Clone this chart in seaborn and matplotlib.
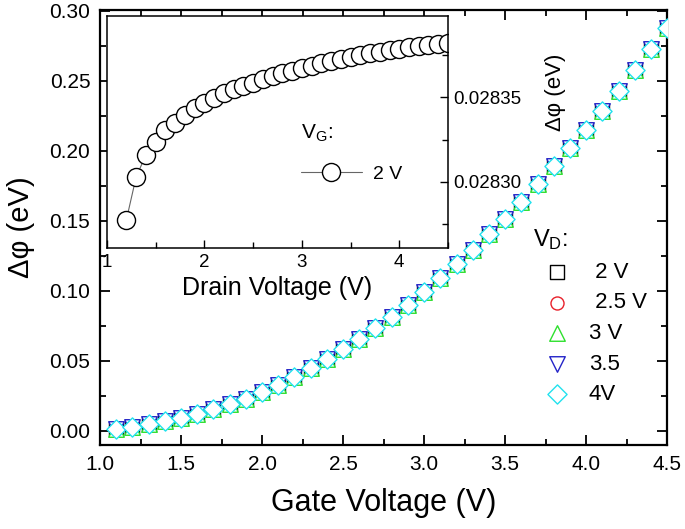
import matplotlib
matplotlib.use("Agg")
import matplotlib.pyplot as plt
from matplotlib.ticker import MultipleLocator, FormatStrFormatter
import pandas as pd
import seaborn as sns

# main panel: potential shift vs gate voltage, one series per drain voltage
gate_voltage = [1.1, 1.2, 1.3, 1.4, 1.5, 1.6, 1.7, 1.8, 1.9, 2.0,
                2.1, 2.2, 2.3, 2.4, 2.5, 2.6, 2.7, 2.8, 2.9, 3.0,
                3.1, 3.2, 3.3, 3.4, 3.5, 3.6, 3.7, 3.8, 3.9, 4.0,
                4.1, 4.2, 4.3, 4.4, 4.5]
dphi_gate = [0.0014, 0.0030, 0.0048, 0.0068, 0.0093, 0.0123, 0.0155, 0.0191, 0.0230, 0.0276,
             0.0328, 0.0384, 0.0446, 0.0513, 0.0585, 0.0658, 0.0735, 0.0815, 0.0900, 0.0990,
             0.1090, 0.1190, 0.1295, 0.1403, 0.1515, 0.1635, 0.1762, 0.1890, 0.2020, 0.2152,
             0.2287, 0.2427, 0.2575, 0.2728, 0.2880]
vd_labels = [" 2 V", " 2.5 V", "3 V", "3.5", "4V"]
vd_markers = ["s", "o", "^", "v", "D"]
vd_colors = ["black", "#e8202a", "#2ee02e", "#2424c8", "#22e2ee"]
vd_sizes = [88, 88, 125, 125, 95]

# inset: potential shift vs drain voltage at V_G = 2 V
drain_voltage = [1.2, 1.3, 1.4, 1.5, 1.6, 1.7, 1.8, 1.9, 2.0, 2.1,
                 2.2, 2.3, 2.4, 2.5, 2.6, 2.7, 2.8, 2.9, 3.0, 3.1,
                 3.2, 3.3, 3.4, 3.5, 3.6, 3.7, 3.8, 3.9, 4.0, 4.1,
                 4.2, 4.3, 4.4, 4.5]
dphi_drain = [0.0282776, 0.0283029, 0.0283159, 0.0283235, 0.0283306, 0.0283347, 0.0283394,
              0.0283435, 0.0283465, 0.0283494, 0.0283524, 0.0283547, 0.0283565, 0.0283582,
              0.0283606, 0.0283624, 0.0283641, 0.0283653, 0.0283671, 0.0283682, 0.0283700,
              0.0283712, 0.0283724, 0.0283735, 0.0283747, 0.0283759, 0.0283765, 0.0283776,
              0.0283782, 0.0283794, 0.0283800, 0.0283806, 0.0283812, 0.0283818]

sns.set_style("ticks", rc={"text.color": "black", "axes.labelcolor": "black",
                           "axes.edgecolor": "black", "xtick.color": "black",
                           "ytick.color": "black"})
plt.rcParams["font.family"] = ["Liberation Sans", "DejaVu Sans"]
plt.rcParams["mathtext.fontset"] = "custom"
plt.rcParams["mathtext.rm"] = "Liberation Sans"
plt.rcParams["mathtext.it"] = "Liberation Sans:italic"

fig = plt.figure(figsize=(6.85, 5.29), dpi=100)
ax = fig.add_axes([0.146, 0.159, 0.828, 0.822])

df = pd.DataFrame({"gate": gate_voltage, "dphi": dphi_gate})
for lab, m, c, s in zip(vd_labels, vd_markers, vd_colors, vd_sizes):
    sns.scatterplot(data=df, x="gate", y="dphi", marker=m, s=s, facecolor="white",
                    edgecolor=c, linewidth=1.0, label=lab, ax=ax, zorder=3)

ax.set_xlim(1.0, 4.5)
ax.set_ylim(-0.010, 0.3005)
ax.xaxis.set_major_locator(MultipleLocator(0.5))
ax.xaxis.set_minor_locator(MultipleLocator(0.25))
ax.yaxis.set_major_locator(MultipleLocator(0.05))
ax.yaxis.set_minor_locator(MultipleLocator(0.025))
ax.xaxis.set_major_formatter(FormatStrFormatter("%.1f"))
ax.yaxis.set_major_formatter(FormatStrFormatter("%.2f"))
ax.tick_params(which="both", direction="in", top=True, right=True, width=1.3,
               labelsize=15, pad=7)
ax.tick_params(which="major", length=7)
ax.tick_params(which="minor", length=4)
for sp in ax.spines.values():
    sp.set_linewidth(1.6)
ax.set_xlabel("Gate Voltage (V)", fontsize=22, labelpad=10)
ax.set_ylabel("Δφ (eV)", fontsize=21, labelpad=10)

ax.legend(title=r"V$_{\rm D}$:", loc="upper left", bbox_to_anchor=(0.764, 0.50),
          frameon=False, fontsize=16, title_fontsize=17, alignment="left",
          borderpad=0, borderaxespad=0, handlelength=2.1, handletextpad=0.4,
          labelspacing=0.43)

# inset
ax_in = fig.add_axes([0.156, 0.531, 0.498, 0.439])
df_in = pd.DataFrame({"drain": drain_voltage, "dphi": dphi_drain})
sns.lineplot(data=df_in, x="drain", y="dphi", marker="o", markersize=13,
             markerfacecolor="white", markeredgecolor="black", markeredgewidth=1.0,
             color="#666666", linewidth=0.8, label="2 V", ax=ax_in)
ax_in.set_xlim(1.0, 4.5)
ax_in.set_ylim(0.028261, 0.028398)
ax_in.xaxis.set_major_locator(MultipleLocator(1))
ax_in.xaxis.set_minor_locator(MultipleLocator(0.5))
ax_in.yaxis.set_major_locator(MultipleLocator(0.00005))
ax_in.yaxis.set_minor_locator(MultipleLocator(0.000025))
ax_in.yaxis.set_major_formatter(FormatStrFormatter("%.5f"))
ax_in.yaxis.tick_right()
ax_in.tick_params(which="both", direction="in", top=False, left=False, right=True,
                  width=1.0, labelsize=13.5, pad=4)
ax_in.tick_params(which="major", length=6)
ax_in.tick_params(which="minor", length=4)
for sp in ax_in.spines.values():
    sp.set_linewidth(1.1)
ax_in.set_xlabel("Drain Voltage (V)", fontsize=18, labelpad=4)
ax_in.set_ylabel("Δφ (eV)", fontsize=16, rotation=90)
ax_in.yaxis.set_label_position("right")
ax_in.yaxis.set_label_coords(1.314, 0.672)
ax_in.yaxis.label.set_verticalalignment("center")

ax_in.legend(title=r"V$_{\rm G}$:", loc="upper left", bbox_to_anchor=(0.57, 0.54),
             frameon=False, fontsize=14, title_fontsize=15, alignment="left",
             borderpad=0, borderaxespad=0, handlelength=3.1, handletextpad=0.6,
             labelspacing=1.1)

fig.savefig("out.png", dpi=100)
